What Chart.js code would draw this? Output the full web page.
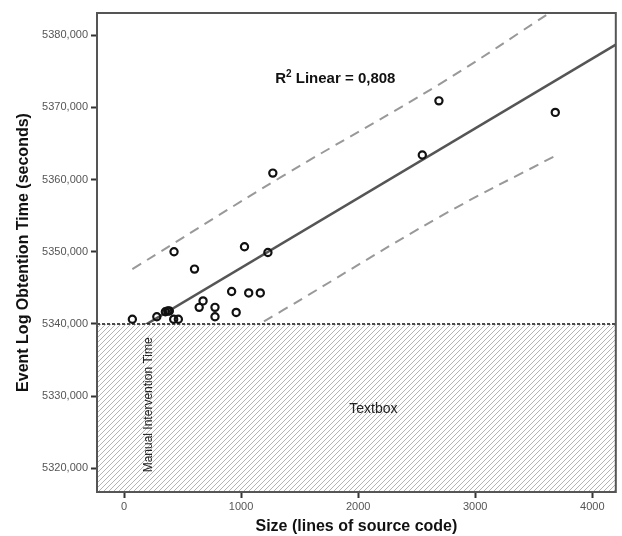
<!DOCTYPE html>
<html>
<head>
<meta charset="utf-8">
<script src="https://cdn.jsdelivr.net/npm/chart.js@4"></script>
<style>
  html, body { margin: 0; padding: 0; background: #fff; }
  #wrap { width: 622px; height: 536px; }
</style>
</head>
<body>
<div id="wrap"><canvas id="scatterChart" width="622" height="536"></canvas></div>
<script>
// Size (lines of source code) and event log obtention time (seconds)
const sizeValues = [71, 280, 353, 373, 387, 424, 464, 427, 602, 642, 675, 777, 777, 919, 958, 1029, 1065, 1164, 1229, 1271, 2548, 2690, 3684];
const timeValues = [5340.65, 5341.0, 5341.7, 5341.8, 5341.8, 5340.65, 5340.65, 5350.0, 5347.6, 5342.3, 5343.2, 5342.3, 5341.0, 5344.5, 5341.6, 5350.7, 5344.3, 5344.3, 5349.9, 5360.9, 5363.4, 5370.9, 5369.3];

// fit line ends
const fitX = [-231, 4201];
const fitY = [5335.9, 5378.7];

// prediction band, read at a few sizes (it widens slightly towards the ends)
const bandX = [71, 1347, 2703, 3684];
const upperY = [5347.6, 5360.4, 5373.3, 5383.6];
const lowerY = [5329.6, 5341.8, 5354.9, 5363.3];

// manual intervention threshold
const thresholdX = [-231, 4201];
const thresholdY = [5340, 5340];

// axes
const xTicks = [0, 1000, 2000, 3000, 4000];
const yTicks = [5320, 5330, 5340, 5350, 5360, 5370, 5380];
const xRange = [-231, 4201];
const yRange = [5316.73, 5383.07];

const toPoints = (xs, ys) => xs.map((x, i) => ({ x: x, y: ys[i] }));

// diagonal hatch pattern for the area under the threshold
function makeHatch() {
  const c = document.createElement('canvas');
  c.width = 5;
  c.height = 5;
  const g = c.getContext('2d');
  g.fillStyle = '#ffffff';
  g.fillRect(0, 0, 5, 5);
  g.strokeStyle = '#b4b4b4';
  g.lineWidth = 1;
  g.beginPath();
  g.moveTo(-1, 6); g.lineTo(6, -1);
  g.moveTo(-1, 1); g.lineTo(1, -1);
  g.moveTo(4, 6); g.lineTo(6, 4);
  g.stroke();
  return g.createPattern(c, 'repeat');
}

const FONT = "'Liberation Sans', Arial, sans-serif";

// frame round the plot area + the texts inside it
const framePlugin = {
  id: 'frame',
  afterDatasetsDraw(chart) {
    const { ctx, chartArea: a, scales: { x, y } } = chart;
    ctx.save();

    ctx.fillStyle = '#222';
    ctx.textAlign = 'center';
    ctx.textBaseline = 'middle';
    ctx.font = '14px ' + FONT;
    ctx.fillText('Textbox', x.getPixelForValue(2130), y.getPixelForValue(5328.2));

    ctx.save();
    ctx.translate(x.getPixelForValue(208), y.getPixelForValue(5328.8));
    ctx.rotate(-Math.PI / 2);
    ctx.font = '12px ' + FONT;
    ctx.fillText('Manual Intervention Time', 0, 0);
    ctx.restore();

    // R squared label
    const main = ' Linear = 0,808';
    ctx.font = 'bold 15px ' + FONT;
    const wR = ctx.measureText('R').width;
    const wM = ctx.measureText(main).width;
    ctx.font = 'bold 10px ' + FONT;
    const w2 = ctx.measureText('2').width;
    const total = wR + w2 + wM;
    const cx = x.getPixelForValue(1805);
    const cy = y.getPixelForValue(5373.9);
    let left = cx - total / 2;
    ctx.textAlign = 'left';
    ctx.fillStyle = '#111';
    ctx.font = 'bold 15px ' + FONT;
    ctx.fillText('R', left, cy);
    ctx.font = 'bold 10px ' + FONT;
    ctx.fillText('2', left + wR, cy - 5);
    ctx.font = 'bold 15px ' + FONT;
    ctx.fillText(main, left + wR + w2, cy);

    ctx.strokeStyle = '#555';
    ctx.lineWidth = 2;
    ctx.strokeRect(a.left, a.top, a.right - a.left, a.bottom - a.top);
    ctx.restore();
  }
};

const ctx = document.getElementById('scatterChart').getContext('2d');
const scatterChart = new Chart(ctx, {
  type: 'scatter',
  data: {
    datasets: [
      {
        label: 'Observed',
        data: toPoints(sizeValues, timeValues),
        pointStyle: 'circle',
        pointRadius: 3.6,
        pointBorderWidth: 2.2,
        borderColor: '#111',
        backgroundColor: 'rgba(255,255,255,0)',
        order: 0
      },
      {
        type: 'line',
        label: 'Threshold',
        data: toPoints(thresholdX, thresholdY),
        borderColor: '#111',
        borderWidth: 1.6,
        borderDash: [3, 2],
        pointRadius: 0,
        fill: 'start',
        backgroundColor: makeHatch(),
        order: 1
      },
      {
        type: 'line',
        label: 'Linear fit',
        data: toPoints(fitX, fitY),
        borderColor: '#555',
        borderWidth: 2.5,
        pointRadius: 0,
        fill: false,
        order: 2
      },
      {
        type: 'line',
        label: 'Upper',
        data: toPoints(bandX, upperY),
        borderColor: '#999',
        borderWidth: 2,
        borderDash: [10, 7],
        pointRadius: 0,
        tension: 0.4,
        fill: false,
        order: 2
      },
      {
        type: 'line',
        label: 'Lower',
        data: toPoints(bandX, lowerY),
        borderColor: '#999',
        borderWidth: 2,
        borderDash: [10, 7],
        pointRadius: 0,
        tension: 0.4,
        fill: false,
        order: 2
      }
    ]
  },
  options: {
    responsive: false,
    animation: false,
    layout: { padding: { top: 13, right: 2, left: 0, bottom: 0 } },
    plugins: {
      legend: { display: false },
      tooltip: { enabled: false }
    },
    scales: {
      x: {
        type: 'linear',
        min: xRange[0],
        max: xRange[1],
        afterBuildTicks: axis => { axis.ticks = xTicks.map(v => ({ value: v })); },
        afterFit: axis => {
          axis.height = 44;
          axis.paddingLeft = 0;
          axis.paddingRight = 0;
        },
        border: { display: false },
        grid: { drawOnChartArea: false, drawTicks: true, tickLength: 6, tickColor: '#333', tickWidth: 2 },
        ticks: { color: '#555', font: { family: FONT, size: 11 }, padding: 2, maxRotation: 0, callback: v => String(v) },
        title: {
          display: true,
          text: 'Size (lines of source code)',
          color: '#111',
          font: { family: FONT, size: 16, weight: 'bold' },
          padding: { top: 0, bottom: 0 }
        }
      },
      y: {
        type: 'linear',
        min: yRange[0],
        max: yRange[1],
        afterBuildTicks: axis => { axis.ticks = yTicks.map(v => ({ value: v })); },
        afterFit: axis => {
          axis.width = 97;
          axis.paddingTop = 0;
          axis.paddingBottom = 0;
        },
        border: { display: false },
        grid: { drawOnChartArea: false, drawTicks: true, tickLength: 6, tickColor: '#333', tickWidth: 2 },
        ticks: {
          color: '#555',
          font: { family: FONT, size: 11 },
          padding: 3,
          callback: v => v.toFixed(3).replace('.', ',')
        },
        title: {
          display: true,
          text: 'Event Log Obtention Time (seconds)',
          color: '#111',
          font: { family: FONT, size: 16, weight: 'bold' },
          padding: { top: 14, bottom: 0 }
        }
      }
    }
  },
  plugins: [framePlugin]
});
</script>
</body>
</html>
